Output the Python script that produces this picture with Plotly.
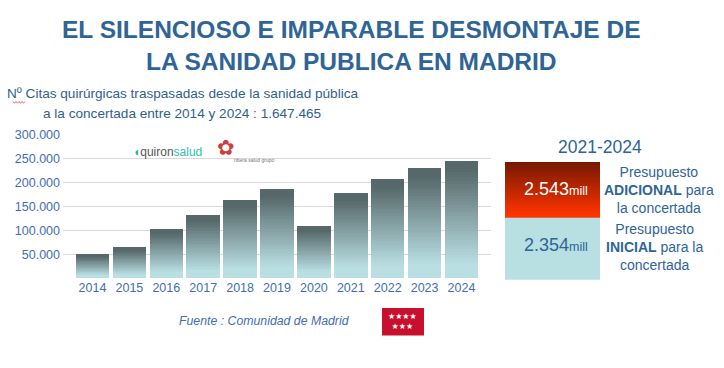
import plotly.graph_objects as go

# ---------------- data ----------------
years = ["2014", "2015", "2016", "2017", "2018", "2019", "2020", "2021", "2022", "2023", "2024"]
citas = [48800, 63100, 102000, 130700, 163500, 185400, 108200, 177900, 206000, 229100, 245500]
y_tick_vals = [50000, 100000, 150000, 200000, 250000, 300000]
y_tick_text = ["50.000", "100.000", "150.000", "200.000", "250.000", "300.000"]
periodo = "2021-2024"
adicional_txt = "2.543"
inicial_txt = "2.354"

W, H = 724, 368
def px(x):
    return x / W
def py(y):
    return 1 - y / H

FONT = "Arial, Liberation Sans, sans-serif"
BLUE_T = "#2F6496"
BLUE_L = "#3F6DB5"

def lerp_color(c1, c2, t):
    a = [int(c1[i:i + 2], 16) for i in (1, 3, 5)]
    b = [int(c2[i:i + 2], 16) for i in (1, 3, 5)]
    return "rgb(%d,%d,%d)" % tuple(round(a[k] + (b[k] - a[k]) * t) for k in range(3))

LIGHT = "#B9DFE3"
DARK = "#56686A"
N = 40

fig = go.Figure()
for k in range(N):
    f = (k + 0.5) / N
    t = min(1.0, max(0.0, (f - 0.12) / 0.8))
    fig.add_trace(go.Bar(
        x=years, y=[v / N for v in citas],
        marker=dict(color=lerp_color(LIGHT, DARK, t), line=dict(width=0)),
        hoverinfo="skip", showlegend=False,
    ))

shapes = []
# right panel boxes: red gradient
RB_L, RB_R, RB_T, RB_B = 505, 600, 162, 219
M = 57
for k in range(M):
    y0 = RB_T + (RB_B - RB_T) * k / M
    y1 = min(RB_B, RB_T + (RB_B - RB_T) * (k + 1) / M + 1)
    t = k / (M - 1)
    shapes.append(dict(type="rect", xref="paper", yref="paper",
                       x0=px(RB_L), x1=px(RB_R), y0=py(y1), y1=py(y0),
                       fillcolor=lerp_color("#761A00", "#FF3300", min(1, t * 1.05)),
                       line=dict(width=0), layer="above"))
shapes.append(dict(type="rect", xref="paper", yref="paper",
                   x0=px(RB_L), x1=px(RB_R), y0=py(282), y1=py(219),
                   fillcolor="#B8DFE2", line=dict(width=0)))
# Madrid flag
shapes.append(dict(type="rect", xref="paper", yref="paper",
                   x0=px(382), x1=px(424), y0=py(339), y1=py(311),
                   fillcolor="#C8102E", line=dict(width=0)))
# red spell-check squiggle under "Nº"
zz = " ".join(("M" if i == 0 else "L") + " %.4f,%.4f" % (px(13 + i * 1.5), py(100.5 + (i % 2) * 1.5))
              for i in range(9))
shapes.append(dict(type="path", xref="paper", yref="paper", path=zz,
                   line=dict(color="#E03030", width=0.8)))

def A(**kw):
    d = dict(xref="paper", yref="paper", showarrow=False, xanchor="center", yanchor="middle")
    d.update(kw)
    return d

ann = []
ann.append(A(text="<b>EL SILENCIOSO E IMPARABLE DESMONTAJE DE<br>LA SANIDAD PUBLICA EN MADRID</b>",
             x=px(351), y=py(43), font=dict(family=FONT, size=24.5, color=BLUE_T), align="center"))
ann.append(A(text="Nº Citas quirúrgicas traspasadas desde la sanidad pública",
             x=px(182), y=py(92), font=dict(family=FONT, size=13.6, color="#2F5F8C")))
ann.append(A(text="a la concertada entre 2014 y 2024 : 1.647.465",
             x=px(182), y=py(113), font=dict(family=FONT, size=13.6, color="#2F5F8C")))
# logos (text approximations)
ann.append(A(text="<span style='color:#1FB5A8'>◖</span><span style='color:#555'>quiron</span><span style='color:#2CC0B0'>salud</span>",
             x=px(131), y=py(152), xanchor="left", font=dict(family=FONT, size=12)))
ann.append(A(text="✿", x=px(226), y=py(148), font=dict(family="DejaVu Sans", size=21, color="#C9413E")))
ann.append(A(text="ribera salud grupo", x=px(232), y=py(160), xanchor="left",
             font=dict(family=FONT, size=5, color="#777")))
# right panel
ann.append(A(text=periodo, x=px(600), y=py(147), font=dict(family=FONT, size=17.5, color=BLUE_T)))
ann.append(A(text=adicional_txt + "<span style='font-size:12.5px'>mill</span>", x=px(556), y=py(190),
             font=dict(family=FONT, size=18, color="white")))
ann.append(A(text=inicial_txt + "<span style='font-size:12.5px'>mill</span>", x=px(556), y=py(247),
             font=dict(family=FONT, size=18, color=BLUE_T)))
ann.append(A(text="Presupuesto<br><b>ADICIONAL</b> para<br>la concertada", x=px(659), y=py(191),
             align="center", font=dict(family=FONT, size=14, color=BLUE_T)))
ann.append(A(text="Presupuesto<br><b>INICIAL</b> para la<br>concertada", x=px(654), y=py(249),
             align="center", font=dict(family=FONT, size=14, color=BLUE_T)))
# source
ann.append(A(text="<i>Fuente : Comunidad de Madrid</i>", x=px(264), y=py(324),
             font=dict(family=FONT, size=12.3, color=BLUE_L)))
ann.append(A(text="★★★★<br>★★★", x=px(402), y=py(325), align="center",
             font=dict(family="DejaVu Sans", size=8, color="white")))

fig.update_layout(
    width=W, height=H, margin=dict(l=0, r=0, t=0, b=0),
    paper_bgcolor="white", plot_bgcolor="white",
    barmode="stack", bargap=0.09,
    xaxis=dict(domain=[px(63), px(491)], range=[-0.8, 10.8], type="category",
               showgrid=False, zeroline=False, showline=False, ticks="",
               tickfont=dict(family=FONT, size=12.5, color=BLUE_L)),
    yaxis=dict(domain=[py(280.5), py(134)], range=[0, 300000],
               tickvals=y_tick_vals, ticktext=y_tick_text,
               showgrid=True, gridcolor="#D9D9D9", gridwidth=1.3, zeroline=False,
               showline=False, ticks="", ticklabelstandoff=2,
               tickfont=dict(family=FONT, size=12.5, color=BLUE_L)),
    shapes=shapes, annotations=ann,
)

fig.write_html(
    "out.html",
    config={"displayModeBar": False},
    post_script=("document.body.style.margin='0';document.body.style.overflow='hidden';"
                 "var d=document.getElementById('{plot_id}');d.style.position='absolute';"
                 "d.style.top='-4px';d.style.left='0px';"),
)
